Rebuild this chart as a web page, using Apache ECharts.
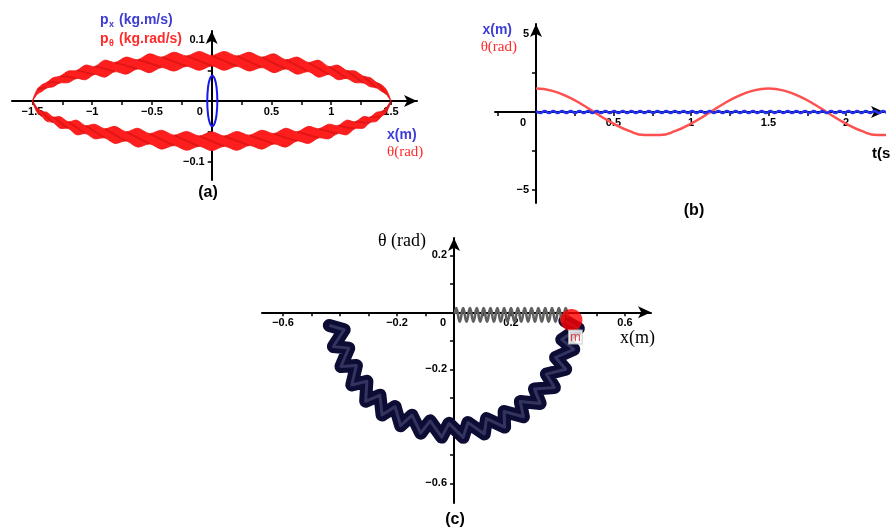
<!DOCTYPE html>
<html>
<head>
<meta charset="utf-8">
<script src="https://cdn.jsdelivr.net/npm/echarts@6/dist/echarts.min.js"></script>
<style>
  html, body { margin: 0; padding: 0; background: #fff; }
  #chart { width: 890px; height: 531px; }
</style>
</head>
<body>
<div id="chart"></div>
<script>
// ---------- (a) phase portraits ----------
// theta samples along the ribbon (rad); alternate pinch / lobe stations
const ribbonTheta = [-1.5, -1.46, -1.42, -1.38, -1.325, -1.27, -1.2, -1.13, -1.055, -0.98, -0.895, -0.81, -0.715, -0.62, -0.52, -0.42, -0.315, -0.21, -0.105, 0,
  0.105, 0.21, 0.315, 0.42, 0.52, 0.62, 0.715, 0.81, 0.895, 0.98, 1.055, 1.13, 1.2, 1.27, 1.325, 1.38, 1.42, 1.46, 1.5];
// p_theta, upper half of the orbit (outer and inner edge of the band)
const topOuter = [0, 0.0191, 0.0268, 0.0304, 0.0384, 0.0406, 0.0491, 0.0499, 0.0589, 0.0565, 0.0670, 0.0631, 0.0720, 0.0676, 0.0774, 0.0719, 0.0800, 0.0739, 0.0813, 0.0745,
  0.0813, 0.0739, 0.0800, 0.0719, 0.0774, 0.0676, 0.0720, 0.0631, 0.0670, 0.0565, 0.0589, 0.0499, 0.0491, 0.0406, 0.0384, 0.0304, 0.0268, 0.0191, 0];
const topInner = [0, 0.0111, 0.0158, 0.0214, 0.0234, 0.0296, 0.0301, 0.0369, 0.0349, 0.0435, 0.0390, 0.0481, 0.0440, 0.0526, 0.0464, 0.0549, 0.0490, 0.0569, 0.0503, 0.0575,
  0.0503, 0.0569, 0.0490, 0.0549, 0.0464, 0.0526, 0.0440, 0.0481, 0.0390, 0.0435, 0.0349, 0.0369, 0.0301, 0.0296, 0.0234, 0.0214, 0.0158, 0.0111, 0];
// p_theta, lower half of the orbit
const botInner = [0, -0.0111, -0.0173, -0.0184, -0.0264, -0.0256, -0.0341, -0.0314, -0.0404, -0.0380, -0.0455, -0.0416, -0.0505, -0.0446, -0.0534, -0.0479, -0.0560, -0.0499, -0.0573, -0.0505,
  -0.0573, -0.0499, -0.0560, -0.0479, -0.0534, -0.0446, -0.0505, -0.0416, -0.0455, -0.0380, -0.0404, -0.0314, -0.0341, -0.0256, -0.0264, -0.0184, -0.0173, -0.0111, 0];
const botOuter = [0, -0.0191, -0.0253, -0.0334, -0.0354, -0.0446, -0.0451, -0.0554, -0.0534, -0.0620, -0.0605, -0.0696, -0.0655, -0.0756, -0.0704, -0.0789, -0.0730, -0.0809, -0.0743, -0.0815,
  -0.0743, -0.0809, -0.0730, -0.0789, -0.0704, -0.0756, -0.0655, -0.0696, -0.0605, -0.0620, -0.0534, -0.0554, -0.0451, -0.0446, -0.0354, -0.0334, -0.0253, -0.0191, 0];
// x - p_x orbit
const orbitX  = [0.047, 0.0414, 0.026, 0.005, -0.016, -0.0314, -0.037, -0.0314, -0.016, 0.005, 0.026, 0.0414];
const orbitPx = [0, 0.0208, 0.0359, 0.0415, 0.0359, 0.0208, 0, -0.0208, -0.0359, -0.0415, -0.0359, -0.0208];

// ---------- (b) time series ----------
const tTheta = [0, 0.1, 0.2, 0.3, 0.4, 0.5, 0.6, 0.7, 0.8, 0.9, 1.0, 1.1, 1.2, 1.3, 1.4, 1.5, 1.6, 1.7, 1.8, 1.9, 2.0, 2.1, 2.2, 2.3];
const thetaT = [1.5, 1.37, 1.004, 0.464, -0.157, -0.75, -1.214, -1.467, -1.467, -1.214, -0.75, -0.157, 0.464, 1.004, 1.37, 1.5, 1.37, 1.004, 0.464, -0.157, -0.75, -1.214, -1.467, -1.467];
const tX = [0, 0.028, 0.056, 0.084, 0.112, 0.14, 0.168, 0.196, 0.224, 0.252, 0.28, 0.308, 0.336, 0.364, 0.392, 0.42, 0.448, 0.476, 0.504, 0.532,
  0.56, 0.588, 0.616, 0.644, 0.672, 0.7, 0.728, 0.756, 0.784, 0.812, 0.84, 0.868, 0.896, 0.924, 0.952, 0.98, 1.008, 1.036, 1.064, 1.092,
  1.12, 1.148, 1.176, 1.204, 1.232, 1.26, 1.288, 1.316, 1.344, 1.372, 1.4, 1.428, 1.456, 1.484, 1.512, 1.54, 1.568, 1.596, 1.624, 1.652,
  1.68, 1.708, 1.736, 1.764, 1.792, 1.82, 1.848, 1.876, 1.904, 1.932, 1.96, 1.988, 2.016, 2.044, 2.072, 2.1, 2.128, 2.156, 2.184, 2.212,
  2.24, 2.268, 2.296];
const xT = [0.06, -0.06, 0.06, -0.06, 0.06, -0.06, 0.06, -0.06, 0.06, -0.06, 0.06, -0.06, 0.06, -0.06, 0.06, -0.06, 0.06, -0.06, 0.06, -0.06,
  0.06, -0.06, 0.06, -0.06, 0.06, -0.06, 0.06, -0.06, 0.06, -0.06, 0.06, -0.06, 0.06, -0.06, 0.06, -0.06, 0.06, -0.06, 0.06, -0.06,
  0.06, -0.06, 0.06, -0.06, 0.06, -0.06, 0.06, -0.06, 0.06, -0.06, 0.06, -0.06, 0.06, -0.06, 0.06, -0.06, 0.06, -0.06, 0.06, -0.06,
  0.06, -0.06, 0.06, -0.06, 0.06, -0.06, 0.06, -0.06, 0.06, -0.06, 0.06, -0.06, 0.06, -0.06, 0.06, -0.06, 0.06, -0.06, 0.06, -0.06,
  0.06, -0.06, 0.06];

// ---------- (c) configuration space ----------
// bob path in the x-theta plane, coil vertices (outer / inner turns)
const coilX = [-0.4376, -0.3852, -0.4234, -0.3692, -0.3968, -0.3424, -0.3587, -0.3056, -0.3100, -0.2599, -0.2524, -0.2067,
  -0.1873, -0.1474, -0.1168, -0.0837, -0.0429, -0.0177, 0.0322, 0.0489, 0.1064, 0.1140, 0.1776, 0.1758,
  0.2435, 0.2325, 0.3023, 0.2824, 0.3523, 0.3241, 0.3920, 0.3563, 0.4203, 0.3781, 0.4363, 0.3888];
const coilY = [-0.0460, -0.0610, -0.1198, -0.1257, -0.1901, -0.1867, -0.2549, -0.2422, -0.3122, -0.2907, -0.3604, -0.3307,
  -0.3981, -0.3611, -0.4242, -0.3809, -0.4379, -0.3896, -0.4388, -0.3869, -0.4269, -0.3730, -0.4026, -0.3481,
  -0.3665, -0.3131, -0.3197, -0.2690, -0.2636, -0.2170, -0.1998, -0.1586, -0.1301, -0.0957, -0.0567, -0.0299];
// spring from the pivot to the mass
const springX = [0.003, 0.008, 0.020, 0.032, 0.044, 0.056, 0.068, 0.080, 0.092, 0.104, 0.116, 0.128, 0.140, 0.152, 0.164, 0.176, 0.188,
  0.200, 0.212, 0.224, 0.236, 0.248, 0.260, 0.272, 0.284, 0.296, 0.308, 0.320, 0.332, 0.344, 0.356, 0.368, 0.380, 0.392, 0.400];
const springY = [-0.005, 0.015, -0.033, 0.015, -0.033, 0.015, -0.033, 0.015, -0.033, 0.015, -0.033, 0.015, -0.033, 0.015, -0.033, 0.015, -0.033,
  0.015, -0.033, 0.015, -0.033, 0.015, -0.033, 0.015, -0.033, 0.015, -0.033, 0.015, -0.033, 0.015, -0.033, 0.015, -0.033, 0.015, -0.02];
const massX = [0.412];
const massY = [-0.027];

// ---------- tick values ----------
const ticksAx = [-1.5, -1.25, -1, -0.75, -0.5, -0.25, 0.25, 0.5, 0.75, 1, 1.25, 1.5];
const labelsAx = [-1.5, -1, -0.5, 0, 0.5, 1, 1.5];
const ticksAy = [-0.1, -0.05, 0.05, 0.1];
const labelsAy = [-0.1, 0.1];
const ticksBx = [-0.25, 0.25, 0.5, 0.75, 1, 1.25, 1.5, 1.75, 2];
const labelsBx = [0, 0.5, 1, 1.5, 2];
const ticksBy = [-5, -2.5, 2.5, 5];
const labelsBy = [-5, 5];
const ticksCx = [-0.6, -0.5, -0.4, -0.3, -0.2, -0.1, 0.1, 0.2, 0.3, 0.4, 0.5, 0.6];
const labelsCx = [-0.6, -0.2, 0, 0.2, 0.6];
const ticksCy = [-0.6, -0.5, -0.4, -0.3, -0.2, -0.1, 0.1, 0.2];
const labelsCy = [-0.6, -0.2, 0.2];

const SANS = 'Liberation Sans, Arial, sans-serif';
const SERIF = 'Liberation Serif, Times New Roman, serif';
const BLUE = '#3d3dd6';
const RED = '#ff2b2b';

const fmt = v => v === 0 ? '{z|0}' : (v < 0 ? '\u2212' : '') + Math.abs(v);

// axis drawn through the origin of its grid: offset shifts it from the grid edge
function axis(gridIndex, min, max, ticks, labels, isY, offset, zeroPad) {
  return {
    type: 'value', gridIndex, min, max, offset,
    position: isY ? 'left' : 'bottom',
    axisLine: { show: true, onZero: false, symbol: ['none', 'arrow'], symbolSize: [9, 13],
      lineStyle: { color: '#000', width: 2 } },
    axisTick: { show: true, customValues: ticks, length: 4, inside: false,
      lineStyle: { color: '#000', width: 1.5 } },
    axisLabel: { show: true, customValues: labels, formatter: fmt, margin: isY ? 7 : 5,
      color: '#000', fontFamily: SANS, fontWeight: 'bold', fontSize: 11,
      rich: { z: { padding: [0, zeroPad || 0, 0, 0], color: '#000', fontFamily: SANS, fontWeight: 'bold', fontSize: 11 } } },
    splitLine: { show: false },
    splitArea: { show: false }
  };
}

// filled band between two edges, with a fold stroke across each lobe
function bandRenderer(upper, lower, lobeStart) {
  return function (params, api) {
    const n = ribbonTheta.length;
    const pts = [];
    for (let i = 0; i < n; i++) pts.push(api.coord([ribbonTheta[i], upper[i]]));
    for (let i = n - 2; i >= 1; i--) pts.push(api.coord([ribbonTheta[i], lower[i]]));
    const children = [{
      type: 'polygon', shape: { points: pts, smooth: 0.3 },
      style: { fill: 'rgb(255,30,30)', stroke: 'rgb(240,20,20)', lineWidth: 0.8 }
    }];
    for (let j = lobeStart; j < n - 1; j += 2) {
      const a = api.coord([ribbonTheta[j - 1], upper[j - 1]]);
      const m = api.coord([ribbonTheta[j], (upper[j] + lower[j]) / 2]);
      const b = api.coord([ribbonTheta[j + 1], lower[j + 1]]);
      children.push({ type: 'polyline', shape: { points: [a, m, b], smooth: 0.4 },
        style: { stroke: 'rgba(150,0,0,0.28)', lineWidth: 2, fill: 'none' } });
    }
    return { type: 'group', children };
  };
}

function orbitRenderer(params, api) {
  const pts = orbitX.map((x, i) => api.coord([x, orbitPx[i]]));
  return { type: 'polygon', shape: { points: pts, smooth: 0.5 },
    style: { fill: 'none', stroke: '#1717f0', lineWidth: 2 } };
}

const chart = echarts.init(document.getElementById('chart'), null, { renderer: 'canvas' });

const txt = (x, y, text, font, color, align, extra) => ({
  type: 'text', x, y, silent: true, z: 50,
  style: Object.assign({ text, font, fill: color, align: align || 'left', verticalAlign: 'middle' }, extra || {})
});

chart.setOption({
  animation: false,
  backgroundColor: '#fff',
  grid: [
    { left: 12, top: 31, width: 405, height: 149, containLabel: false, outerBoundsMode: 'none' },
    { left: 495, top: 24, width: 389, height: 179, containLabel: false, outerBoundsMode: 'none' },
    { left: 262, top: 238, width: 389, height: 265, containLabel: false, outerBoundsMode: 'none' }
  ],
  xAxis: [
    axis(0, -1.6711, 1.7180, ticksAx, labelsAx, false, -79, 24),
    axis(1, -0.26452, 2.24516, ticksBx, labelsBx, false, -91, 26),
    axis(2, -0.67368, 0.69123, ticksCx, labelsCx, false, -190.7, 22)
  ],
  yAxis: [
    axis(0, -0.12951, 0.11475, ticksAy, labelsAy, true, -199.7),
    axis(1, -5.8333, 5.6410, ticksBy, labelsBy, true, -41),
    axis(2, -0.66912, 0.26070, ticksCy, labelsCy, true, -192)
  ],
  series: [
    { type: 'custom', xAxisIndex: 0, yAxisIndex: 0, data: [[0, 0]], silent: true, z: 3,
      renderItem: bandRenderer(topOuter, topInner, 2) },
    { type: 'custom', xAxisIndex: 0, yAxisIndex: 0, data: [[0, 0]], silent: true, z: 3,
      renderItem: bandRenderer(botInner, botOuter, 1) },
    { type: 'custom', xAxisIndex: 0, yAxisIndex: 0, data: [[0, 0]], silent: true, z: 4,
      renderItem: orbitRenderer },

    { type: 'line', xAxisIndex: 1, yAxisIndex: 1, silent: true, symbol: 'none', smooth: true, clip: false, z: 3,
      data: tTheta.map((t, i) => [t, thetaT[i]]),
      lineStyle: { color: '#ff5050', width: 2.5 } },
    { type: 'line', xAxisIndex: 1, yAxisIndex: 1, silent: true, symbol: 'none', smooth: true, clip: false, z: 4,
      data: tX.map((t, i) => [t, xT[i]]),
      lineStyle: { color: '#2330f0', width: 2.5 } },

    { type: 'line', xAxisIndex: 2, yAxisIndex: 2, silent: true, symbol: 'none', smooth: false, z: 3,
      data: coilX.map((x, i) => [x, coilY[i]]),
      lineStyle: { color: '#0c0c34', width: 13, join: 'round', cap: 'round' } },
    { type: 'line', xAxisIndex: 2, yAxisIndex: 2, silent: true, symbol: 'none', smooth: false, z: 4,
      data: coilX.map((x, i) => [x, coilY[i]]),
      lineStyle: { color: 'rgba(90,90,140,0.5)', width: 3, join: 'round' } },
    { type: 'line', xAxisIndex: 2, yAxisIndex: 2, silent: true, symbol: 'none', smooth: 0.5, z: 5,
      data: springX.map((x, i) => [x, springY[i]]),
      lineStyle: { color: '#606060', width: 2.6 } },
    { type: 'scatter', xAxisIndex: 2, yAxisIndex: 2, silent: true, z: 6,
      symbol: 'circle', symbolSize: 22,
      itemStyle: { color: '#ff0000' },
      label: { show: true, formatter: 'm', position: 'inside', offset: [4, 17],
        color: '#e02020', fontFamily: SANS, fontSize: 13,
        backgroundColor: '#fff', borderColor: '#c8c8c8', borderWidth: 1, padding: [0, 1, 0, 1] },
      data: massX.map((x, i) => [x, massY[i]]) }
  ],
  graphic: [
    // (a) axis captions
    txt(100, 20, 'p', 'bold 14px ' + SANS, BLUE),
    txt(109, 25, 'x', 'bold 9px ' + SANS, BLUE),
    txt(119, 20, '(kg.m/s)', 'bold 14px ' + SANS, BLUE),
    txt(100, 39, 'p', 'bold 14px ' + SANS, RED),
    txt(109, 44, '\u03b8', 'bold 9px ' + SANS, RED),
    txt(119, 39, '(kg.rad/s)', 'bold 14px ' + SANS, RED),
    txt(387, 135, 'x(m)', 'bold 14px ' + SANS, BLUE),
    txt(387, 152, '\u03b8(rad)', '15px ' + SERIF, RED),
    txt(208, 193, '(a)', 'bold 16px ' + SANS, '#000', 'center'),
    // (b)
    txt(512, 30, 'x(m)', 'bold 14px ' + SANS, BLUE, 'right'),
    txt(517, 47, '\u03b8(rad)', '15px ' + SERIF, RED, 'right'),
    txt(872, 154, 't(s)', 'bold 15px ' + SANS, '#000'),
    txt(694, 211, '(b)', 'bold 16px ' + SANS, '#000', 'center'),
    // (c)
    txt(378, 241, '\u03b8 (rad)', '18px ' + SERIF, '#000'),
    txt(620, 338, 'x(m)', '18px ' + SERIF, '#000'),
    txt(455, 520, '(c)', 'bold 16px ' + SANS, '#000', 'center')
  ]
});
</script>
</body>
</html>
